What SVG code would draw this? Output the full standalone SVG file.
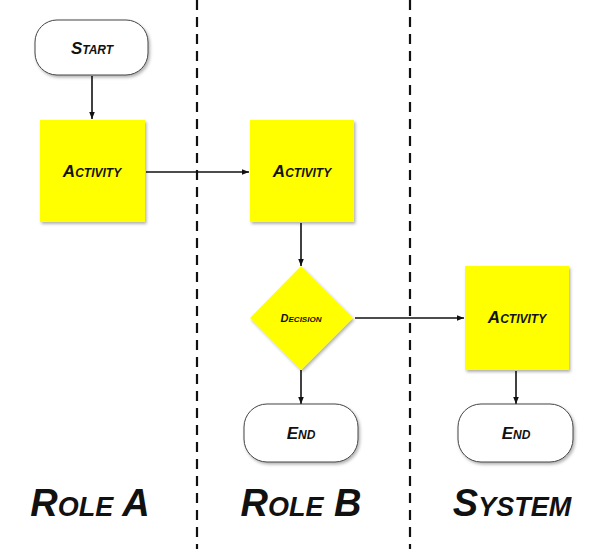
<svg xmlns="http://www.w3.org/2000/svg" width="600" height="549" viewBox="0 0 600 549">
<defs>
<marker id="arr" viewBox="0 0 10 10" refX="10" refY="5" markerWidth="7" markerHeight="7" orient="auto" markerUnits="userSpaceOnUse">
<path d="M0,1 L10,5 L0,9 z" fill="#111"/>
</marker>
<filter id="sh" x="-10%" y="-10%" width="130%" height="130%">
<feDropShadow dx="1.5" dy="2" stdDeviation="1.5" flood-color="#000" flood-opacity="0.3"/>
</filter>
</defs>
<style>
.lane{stroke:#111;stroke-width:2.2;stroke-dasharray:10 7;fill:none}
.edge{stroke:#111;stroke-width:1.6;fill:none;marker-end:url(#arr)}
.term{fill:#fff;stroke:#444;stroke-width:1;filter:url(#sh)}
.act{fill:#ffff00;filter:url(#sh)}
.t{font-family:"Liberation Sans",Arial,sans-serif;font-weight:bold;font-style:italic;font-variant:small-caps;fill:#111;text-anchor:middle}
.n{font-size:17px}
.d{font-size:11px}
.role{font-size:38px;font-weight:900}
</style>
<g id="lanes">
<line class="lane" x1="197" y1="0" x2="197" y2="549"/>
<line class="lane" x1="410" y1="0" x2="410" y2="549"/>
</g>
<g id="connectors">
<line class="edge" x1="92" y1="76" x2="92" y2="119"/>
<line class="edge" x1="146" y1="172" x2="249" y2="172"/>
<line class="edge" x1="301" y1="223" x2="301" y2="266"/>
<line class="edge" x1="355" y1="318" x2="464" y2="318"/>
<line class="edge" x1="301" y1="370" x2="301" y2="404"/>
<line class="edge" x1="516" y1="371" x2="516" y2="404"/>
</g>
<g id="start">
<rect class="term" x="35" y="20" width="113" height="55" rx="22"/>
<text class="t n" x="92" y="54">Start</text>
</g>
<g id="activityA">
<rect class="act" x="40" y="120" width="105" height="102"/>
<text class="t n" x="92" y="177">Activity</text>
</g>
<g id="activityB">
<rect class="act" x="250" y="120" width="104" height="102"/>
<text class="t n" x="302" y="177">Activity</text>
</g>
<g id="decision">
<polygon class="act" points="301,266 353,318 301,370 250,318"/>
<text class="t d" x="301" y="322">Decision</text>
</g>
<g id="activityC">
<rect class="act" x="465" y="266" width="104" height="104"/>
<text class="t n" x="517" y="323">Activity</text>
</g>
<g id="endB">
<rect class="term" x="244" y="404" width="114" height="58" rx="23"/>
<text class="t n" x="301" y="439">End</text>
</g>
<g id="endC">
<rect class="term" x="458" y="404" width="115" height="58" rx="23"/>
<text class="t n" x="516" y="439">End</text>
</g>
<g id="roles">
<text class="t role" x="90" y="516">Role A</text>
<text class="t role" x="301" y="516">Role B</text>
<text class="t role" x="512" y="516">System</text>
</g>
</svg>
